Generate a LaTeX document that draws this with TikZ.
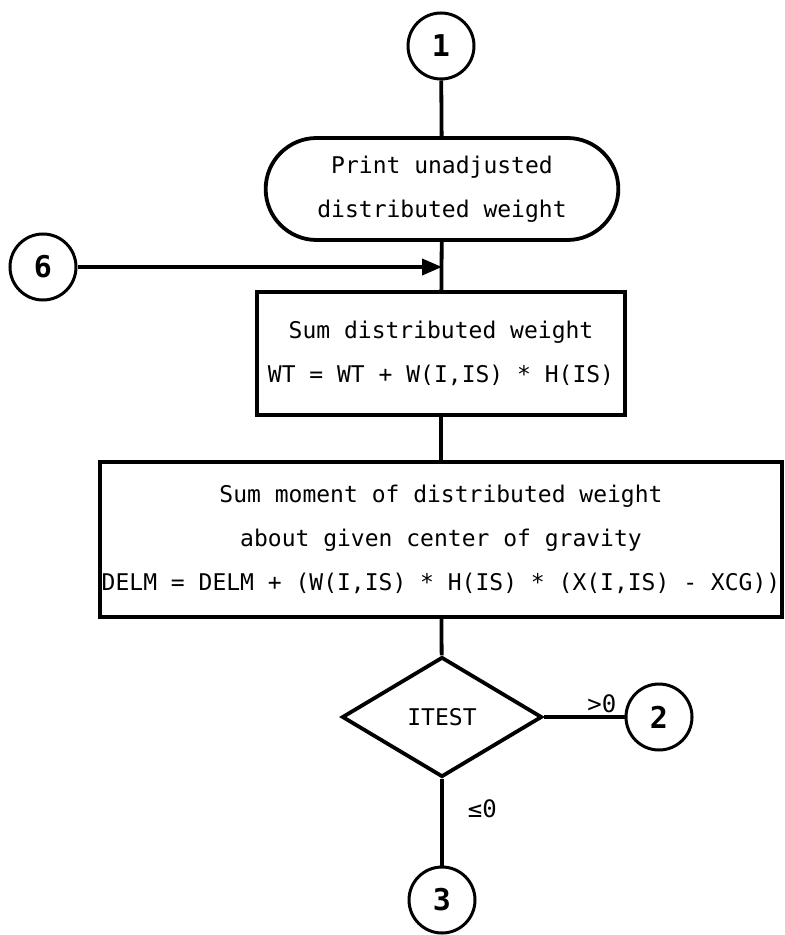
\documentclass[tikz,border=0pt]{standalone}
\usepackage{fontspec}
\setmonofont{DejaVu Sans Mono}
\usetikzlibrary{shapes.geometric,shapes.misc,positioning,arrows.meta}

\begin{document}
\begin{tikzpicture}[x=0.5pt,y=-0.5pt,line width=1.9pt,
  font=\ttfamily\fontsize{11.5}{22}\selectfont]
\tikzstyle{conn}=[draw,circle,line width=1.5pt,minimum size=33pt,inner sep=0pt,
  font=\ttfamily\bfseries\fontsize{15}{15}\selectfont]
\tikzstyle{term}=[draw,rounded rectangle,minimum width=183pt,minimum height=51pt,align=center]
\tikzstyle{proc}=[draw,rectangle,inner sep=0pt,align=center]
\tikzstyle{dec}=[draw,diamond,minimum width=100pt,minimum height=60pt,inner sep=0pt]
\tikzstyle{lbl}=[font=\ttfamily\fontsize{12}{12}\selectfont,inner sep=1pt]
\useasboundingbox (0,0) rectangle (784,935);
% main column
\node[conn] (c1) at (441,46) {1};
\node[term] (print) at (442,189) {Print unadjusted\\distributed weight};
\node[proc,minimum width=184pt,minimum height=61.5pt] (sumw) at (441,353.5)
  {Sum distributed weight\\WT = WT + W(I,IS) * H(IS)};
\node[proc,minimum width=341pt,minimum height=77.5pt] (summ) at (441,539.5)
  {Sum moment of distributed weight\\about given center of gravity\\
   DELM = DELM + (W(I,IS) * H(IS) * (X(I,IS) - XCG))};
\node[dec] (test) at (442,717) {ITEST};
% off-page connectors
\node[conn] (c6) at (43,267) {6};
\node[conn] (c2) at (659,717) {2};
\node[conn] (c3) at (442,900) {3};
\coordinate (join) at (print.south |- c6);

\draw (c1) -- (print);
\draw (print) -- (sumw);
\draw[-{Triangle[length=10pt,width=8pt]}] (c6) -- (join);
\draw (sumw) -- (summ);
\draw (summ) -- (test);
\draw (test) -- node[lbl,above,pos=0.72] {>0} (c2);
\draw (test) -- node[lbl,right=11pt,pos=0.35] {≤0} (c3);
\end{tikzpicture}
\end{document}
